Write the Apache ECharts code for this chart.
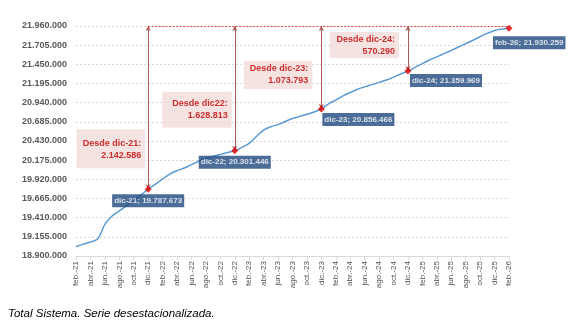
<!DOCTYPE html>
<html><head><meta charset="utf-8">
<script src="https://cdn.jsdelivr.net/npm/echarts@6/dist/echarts.min.js"></script>
<style>html,body{margin:0;padding:0;background:#fff}#c{width:585px;height:335px}</style>
</head><body><div id="c"></div>
<script>
const categories = [
  'feb.-21','mar.-21','abr.-21','may.-21','jun.-21','jul.-21','ago.-21','sep.-21','oct.-21','nov.-21','dic.-21',
  'ene.-22','feb.-22','mar.-22','abr.-22','may.-22','jun.-22','jul.-22','ago.-22','sep.-22','oct.-22','nov.-22','dic.-22',
  'ene.-23','feb.-23','mar.-23','abr.-23','may.-23','jun.-23','jul.-23','ago.-23','sep.-23','oct.-23','nov.-23','dic.-23',
  'ene.-24','feb.-24','mar.-24','abr.-24','may.-24','jun.-24','jul.-24','ago.-24','sep.-24','oct.-24','nov.-24','dic.-24',
  'ene.-25','feb.-25','mar.-25','abr.-25','may.-25','jun.-25','jul.-25','ago.-25','sep.-25','oct.-25','nov.-25','dic.-25',
  'ene.-26','feb.-26'
];
const afiliados = [
  19024000,19058000,19086000,19125000,19320000,19432000,19500000,19570000,19640000,19712000,19787673,
  19855000,19925000,19990000,20035000,20070000,20115000,20160000,20198000,20228000,20252000,20276000,20301446,
  20345000,20399000,20490000,20575000,20620000,20648000,20690000,20730000,20758000,20785000,20815000,20856466,
  20925000,20975000,21030000,21075000,21118000,21150000,21180000,21210000,21241000,21280000,21322000,21359969,
  21410000,21460000,21507000,21550000,21592000,21635000,21680000,21725000,21770000,21817000,21862000,21900000,
  21918000,21930259
];
const yMin = 18900000;
const yMax = 21960000;
const yStep = 255000;
const refLevel = 21960000;
const hlMonths = ['dic.-21','dic.-22','dic.-23','dic.-24','feb.-26'];
const hlShort = ['dic-21','dic-22','dic-23','dic-24','feb-26'];
const sinceTitles = ['Desde dic-21:','Desde dic22:','Desde dic-23:','Desde dic-24:'];
const footerText = 'Total Sistema. Serie desestacionalizada.';

function fmt(v){ return Math.round(v).toString().replace(/\B(?=(\d{3})+(?!\d))/g,'.'); }

const lastName = categories[categories.length-1];
const lastVal = afiliados[afiliados.length-1];
const valOf = m => afiliados[categories.indexOf(m)];

// label layout (styling, not data)
const navyPos = [
  {align:'center', offset:[0,5]},
  {align:'center', offset:[0,5]},
  {align:'left', offset:[1,4]},
  {align:'left', offset:[2,3]},
  {align:'left', offset:[-16,8]}
];
const boxPos = [
  {offset:[-3,-21], pad:[8,4,7,6]},
  {offset:[-3,-23], pad:[6,4,6,10]},
  {offset:[-9,-20], pad:[2,4,2,6]},
  {offset:[-9,-13], pad:[1,4,1,7]}
];

const pointData = hlMonths.map((m,i)=>({
  value:[m, valOf(m)],
  label:{
    show:true, position:'inside', align:navyPos[i].align, verticalAlign:'top', offset:navyPos[i].offset,
    formatter: hlShort[i] + '; ' + fmt(valOf(m)),
    color:'#fff', fontWeight:'bold', fontSize:8, fontFamily:'Liberation Sans, Arial, sans-serif',
    backgroundColor:'#1F497D', padding:[2,2,2,2], lineHeight:9
  }
}));

const boxData = sinceTitles.map((t,i)=>({
  value:[hlMonths[i], valOf(hlMonths[i])],
  label:{
    show:true, position:'inside', align:'right', verticalAlign:'bottom', offset:boxPos[i].offset,
    formatter: t + '\n' + fmt(lastVal - valOf(hlMonths[i])),
    color:'#C00000', fontWeight:'bold', fontSize:9, lineHeight:12, fontFamily:'Liberation Sans, Arial, sans-serif',
    backgroundColor:'#F2DCDB', padding:boxPos[i].pad
  }
}));

const arrowLines = hlMonths.slice(0,4).map(m => [
  {coord:[m, valOf(m)]},
  {coord:[m, refLevel]}
]);

const chart = echarts.init(document.getElementById('c'), null, {renderer:'canvas'});
chart.setOption({
  animation:false,
  grid:{left:76, right:76, top:26, bottom:79, containLabel:false},
  xAxis:{
    type:'category', data:categories, boundaryGap:false,
    axisLine:{lineStyle:{color:'#D9D9D9'}},
    axisTick:{show:true, interval:1, length:4, lineStyle:{color:'#D9D9D9'}},
    axisLabel:{interval:1, rotate:90, fontSize:8, color:'#505050', margin:5, fontFamily:'Liberation Sans, Arial, sans-serif'},
    splitLine:{show:false}
  },
  yAxis:{
    type:'value', min:yMin, max:yMax, interval:yStep,
    axisLine:{show:false}, axisTick:{show:false},
    axisLabel:{formatter:v=>fmt(v), fontSize:9, fontWeight:'bold', color:'#595959', margin:9, fontFamily:'Liberation Sans, Arial, sans-serif'},
    splitLine:{lineStyle:{color:'#D9D9D9', type:[2,2]}}
  },
  series:[
    {
      type:'line', data:afiliados, smooth:0.3, symbol:'none', z:2,
      lineStyle:{color:'#5B9BD5', width:1.5},
      markLine:{
        silent:true, symbol:['none','none'], label:{show:false},
        lineStyle:{color:'#E04848', type:[2,1.5], width:1},
        data:[[{coord:[hlMonths[0], refLevel]},{coord:[lastName, refLevel]}]]
      }
    },
    {
      type:'scatter', data:boxData, symbol:'circle', symbolSize:1, z:3,
      itemStyle:{color:'rgba(0,0,0,0)'},
      markLine:{
        silent:true, symbol:['arrow','arrow'], symbolSize:[4,5], label:{show:false},
        lineStyle:{color:'#B05A58', type:'solid', width:1},
        data:arrowLines
      }
    },
    {
      type:'scatter', data:pointData, symbol:'diamond', symbolSize:7, z:5,
      itemStyle:{color:'#E00000'}
    }
  ],
  graphic:[{
    type:'text', left:8, top:308,
    style:{text:footerText, font:'italic 11.5px "Liberation Sans", Arial, sans-serif', fill:'#000'}
  }]
});
</script></body></html>
